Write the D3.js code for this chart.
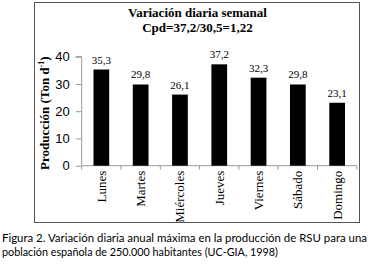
<!DOCTYPE html>
<html>
<head>
<meta charset="utf-8">
<script src="https://cdn.jsdelivr.net/npm/d3@7"></script>
<style>
  body { margin: 0; background: #fff; }
  svg { display: block; }
</style>
</head>
<body>
<div id="chart"></div>
<script>
const days = ['Lunes', 'Martes', 'Miércoles', 'Jueves', 'Viernes', 'Sábado', 'Domingo'];
const production = [35.3, 29.8, 26.1, 37.2, 32.3, 29.8, 23.1];
const yTicks = [0, 10, 20, 30, 40];
const titleLines = ['Variación diaria semanal', 'Cpd=37,2/30,5=1,22'];
const captionLines = [
    'Figura 2. Variación diaria anual máxima en la producción de RSU para una',
    'población española de 250.000 habitantes (UC-GIA, 1998)'
];
const captionWidths = [365, 276];

const W = 372, H = 269;
const plot = { left: 81.7, right: 356.8, top: 56.7, bottom: 165.7 };
const serif = '"Liberation Serif", "Times New Roman", serif';

const svg = d3.select('#chart').append('svg')
    .attr('width', W)
    .attr('height', H);

// chart frame
svg.append('rect')
    .attr('x', 34.5).attr('y', 2.5)
    .attr('width', 325).attr('height', 220)
    .attr('fill', 'none')
    .attr('stroke', '#555')
    .attr('stroke-width', 1);

svg.selectAll('.title')
    .data(titleLines)
    .enter()
    .append('text')
    .attr('class', 'title')
    .attr('x', 197.5)
    .attr('y', (d, i) => 17 + i * 14.5)
    .attr('text-anchor', 'middle')
    .style('font-family', serif)
    .style('font-weight', 'bold')
    .style('font-size', '13px')
    .text(d => d);

const x = d3.scaleBand()
    .domain(days)
    .range([plot.left, plot.right])
    .paddingInner(0.6)
    .paddingOuter(0.3);

const y = d3.scaleLinear()
    .domain([0, 40])
    .range([plot.bottom, plot.top]);

// y axis
const yAxis = svg.append('g')
    .attr('transform', `translate(${plot.left},0)`)
    .call(d3.axisLeft(y).tickValues(yTicks).tickSize(6).tickPadding(6));
yAxis.select('.domain').attr('stroke', '#999').attr('d', `M-6,${plot.top}H0V${plot.bottom}`);
yAxis.selectAll('.tick line').attr('stroke', '#999');
yAxis.selectAll('text')
    .style('font-family', '"Liberation Sans", Arial, sans-serif')
    .style('font-size', '13px')
    .attr('fill', '#000');

// x axis with ticks between categories
const step = x.step();
const xAxis = svg.append('g');
xAxis.append('line')
    .attr('x1', plot.left).attr('x2', plot.right)
    .attr('y1', plot.bottom).attr('y2', plot.bottom)
    .attr('stroke', '#999');
xAxis.selectAll('.sep')
    .data(d3.range(days.length + 1))
    .enter()
    .append('line')
    .attr('x1', i => plot.left + i * step)
    .attr('x2', i => plot.left + i * step)
    .attr('y1', plot.bottom)
    .attr('y2', plot.bottom + 4)
    .attr('stroke', '#999');

xAxis.selectAll('.day')
    .data(days)
    .enter()
    .append('text')
    .attr('transform', d => `translate(${x(d) + x.bandwidth() / 2 + 4.5},${plot.bottom + 5}) rotate(-90)`)
    .attr('text-anchor', 'end')
    .style('font-family', serif)
    .style('font-size', '13px')
    .text(d => d);

// bars
svg.selectAll('.bar')
    .data(days)
    .enter()
    .append('rect')
    .attr('class', 'bar')
    .attr('x', d => x(d))
    .attr('y', (d, i) => y(production[i]))
    .attr('width', x.bandwidth())
    .attr('height', (d, i) => y(0) - y(production[i]))
    .attr('fill', '#000');

svg.selectAll('.bar-label')
    .data(days)
    .enter()
    .append('text')
    .attr('class', 'bar-label')
    .attr('x', d => x(d) + x.bandwidth() / 2)
    .attr('y', (d, i) => y(production[i]) - 6)
    .attr('text-anchor', 'middle')
    .style('font-family', serif)
    .style('font-size', '11px')
    .text((d, i) => production[i].toFixed(1).replace('.', ','));

// y axis title
const yTitle = svg.append('text')
    .attr('transform', `translate(49,${(plot.top + plot.bottom) / 2 + 2}) rotate(-90)`)
    .attr('text-anchor', 'middle')
    .style('font-family', serif)
    .style('font-weight', 'bold')
    .style('font-size', '13px');
yTitle.append('tspan').text('Producción (Ton d');
yTitle.append('tspan').attr('dy', -5).style('font-size', '8px').text('-1');
yTitle.append('tspan').attr('dy', 5).text(')');

// caption
svg.selectAll('.caption')
    .data(captionLines)
    .enter()
    .append('text')
    .attr('class', 'caption')
    .attr('x', 2)
    .attr('y', (d, i) => 242 + i * 14)
    .attr('textLength', (d, i) => captionWidths[i])
    .attr('lengthAdjust', 'spacingAndGlyphs')
    .style('font-family', 'Lato, "Open Sans", sans-serif')
    .style('font-size', '11.5px')
    .text(d => d);
</script>
</body>
</html>
